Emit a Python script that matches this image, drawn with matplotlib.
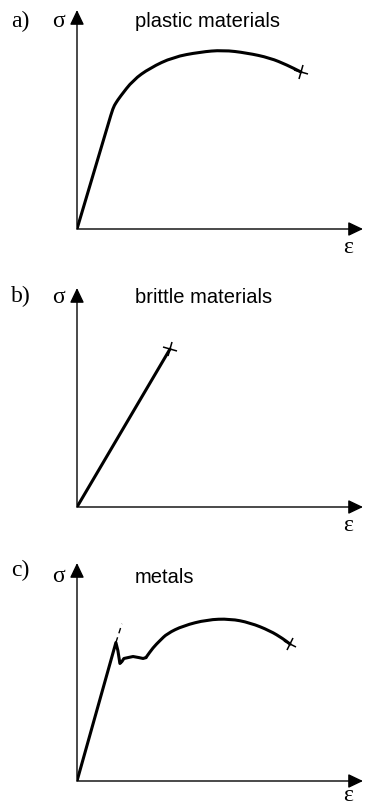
import matplotlib
matplotlib.use("agg")
import matplotlib.pyplot as plt
from matplotlib.markers import MarkerStyle
from matplotlib.patches import PathPatch
from matplotlib.path import Path
from matplotlib.transforms import Affine2D

# stress-strain sketches (arbitrary units, axes run 0..10)
plastic_strain = [0, 1.10, 1.26, 1.36, 1.50, 1.96, 2.55, 3.36, 4.30, 5.10, 5.94, 6.75, 7.34, 7.83]
plastic_stress = [0, 4.83, 5.53, 5.76, 6.03, 6.80, 7.35, 7.85, 8.08, 8.17, 8.04, 7.81, 7.49, 7.17]

brittle_strain = [0, 3.25]
brittle_stress = [0, 7.21]

# metals: elastic line, upper/lower yield point, then hardening up to fracture
metal_yield_strain = [0, 1.36, 1.43, 1.50, 1.57, 1.64, 1.78, 1.96, 2.17, 2.31, 2.41]
metal_yield_stress = [0, 6.35, 5.98, 5.39, 5.48, 5.62, 5.66, 5.71, 5.66, 5.62, 5.66]
metal_hard_strain = [2.41, 2.66, 2.90, 3.15, 3.71, 4.55, 5.35, 6.05, 6.75, 7.20, 7.45]
metal_hard_stress = [5.66, 6.12, 6.44, 6.76, 7.12, 7.40, 7.44, 7.26, 6.89, 6.53, 6.28]
metal_elastic_ext_strain = [1.36, 1.57]
metal_elastic_ext_stress = [6.35, 7.21]

panel_tags = ["a)", "b)", "c)"]
panel_titles = ["plastic materials", "brittle materials", "metals"]

W, H = 366, 807
SERIF = "Liberation Serif"
SANS = "Liberation Sans"


def fx(x):
    return x / W


def fy(y):
    return 1 - y / H


def smooth_curve(ax, xs, ys, lw=2.2):
    """Draw the points as a chain of quadratic beziers through the midpoints."""
    pts = list(zip(xs, ys))
    verts = [pts[0], ((pts[0][0] + pts[1][0]) / 2, (pts[0][1] + pts[1][1]) / 2)]
    codes = [Path.MOVETO, Path.LINETO]
    for i in range(1, len(pts) - 1):
        mid = ((pts[i][0] + pts[i + 1][0]) / 2, (pts[i][1] + pts[i + 1][1]) / 2)
        verts += [pts[i], mid]
        codes += [Path.CURVE3, Path.CURVE3]
    verts.append(pts[-1])
    codes.append(Path.LINETO)
    ax.add_patch(PathPatch(Path(verts, codes), fill=False, lw=lw, ec="k",
                           capstyle="round", joinstyle="round"))


def add_panel(fig, origin_y, top_y):
    ax = fig.add_axes([fx(77), fy(origin_y), fx(363 - 77), (origin_y - top_y) / H])
    ax.set_xlim(0, 10)
    ax.set_ylim(0, 10)
    ax.axis("off")
    arrow = dict(arrowstyle="-|>,head_length=9,head_width=4.3", mutation_scale=1,
                 lw=1.0, color="k", shrinkA=0, shrinkB=0)
    ax.annotate("", xy=(10, 0), xytext=(0, 0), arrowprops=arrow, annotation_clip=False)
    ax.annotate("", xy=(0, 10), xytext=(0, 0), arrowprops=arrow, annotation_clip=False)
    return ax


def add_labels(fig, tag, title, tag_base, sigma_base, title_base, eps_base):
    fig.text(fx(11), fy(tag_base), tag, family=SERIF, fontsize=17, va="baseline")
    fig.text(fx(52), fy(sigma_base), "σ", family=SERIF, fontsize=17, va="baseline")
    fig.text(fx(135), fy(title_base), title, family=SANS, fontsize=14.5, va="baseline")
    fig.text(fx(343), fy(eps_base), "ε", family=SERIF, fontsize=17, va="baseline")


def mark_break(ax, x, y, angle):
    m = MarkerStyle("+", transform=Affine2D().rotate_deg(angle))
    ax.plot(x, y, marker=m, ms=10, mew=1.1, color="k", ls="none", clip_on=False)


def main():
    fig = plt.figure(figsize=(W / 100, H / 100), dpi=100, facecolor="w")

    line_kws = {"color": "k", "lw": 2.2, "solid_capstyle": "round", "solid_joinstyle": "round"}

    # a) plastic materials
    ax = add_panel(fig, 229, 10)
    smooth_curve(ax, plastic_strain, plastic_stress)
    mark_break(ax, plastic_strain[-1], plastic_stress[-1], -18)
    add_labels(fig, panel_tags[0], panel_titles[0], 27, 27, 27, 253)

    # b) brittle materials
    ax = add_panel(fig, 507, 288)
    ax.plot(brittle_strain, brittle_stress, **line_kws)
    mark_break(ax, brittle_strain[-1], brittle_stress[-1], -18)
    add_labels(fig, panel_tags[1], panel_titles[1], 302, 303, 303, 531)

    # c) metals
    ax = add_panel(fig, 781, 563)
    ax.plot(metal_elastic_ext_strain, metal_elastic_ext_stress, color="k", lw=1.0,
            ls=(0, (4, 3)))
    ax.plot(metal_yield_strain, metal_yield_stress, **line_kws)
    smooth_curve(ax, metal_hard_strain, metal_hard_stress)
    mark_break(ax, metal_hard_strain[-1], metal_hard_stress[-1], -25)
    add_labels(fig, panel_tags[2], panel_titles[2], 576, 582, 583, 801)

    fig.savefig("out.png", dpi=100)


if __name__ == "__main__":
    main()
